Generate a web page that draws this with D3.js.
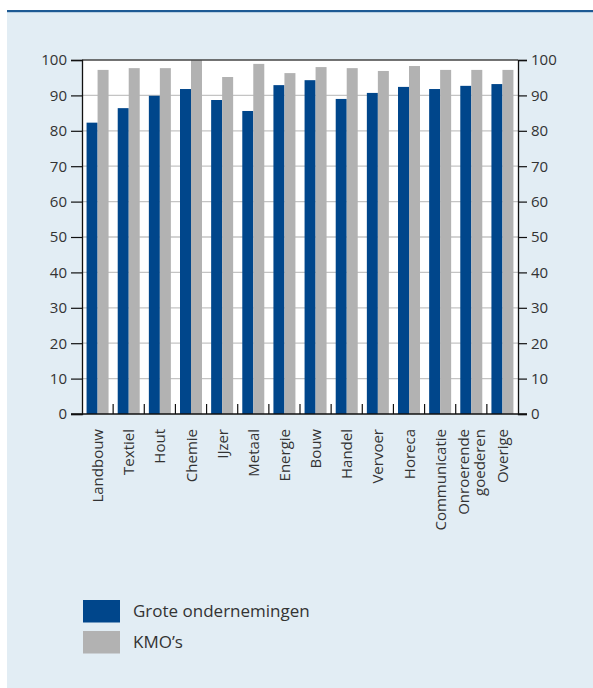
<!DOCTYPE html>
<html><head><meta charset="utf-8">
<script src="https://cdn.jsdelivr.net/npm/d3@7"></script>
<style>body{margin:0;background:#fff}svg{display:block}text{font-family:"Open Sans","Noto Sans",sans-serif;fill:#333}</style>
</head><body><svg id="c" width="593" height="688"></svg>
<script>
const categories = ["Landbouw","Textiel","Hout","Chemie","IJzer","Metaal","Energie","Bouw","Handel","Vervoer","Horeca","Communicatie","Onroerende\ngoederen","Overige"];
const grote = [82.3,86.4,89.9,91.8,88.7,85.6,92.9,94.3,89.0,90.7,92.4,91.8,92.7,93.2];
const kmo = [97.2,97.7,97.7,100,95.2,98.9,96.3,98.0,97.7,96.9,98.3,97.2,97.2,97.2];
const yTicks = [0,10,20,30,40,50,60,70,80,90,100];
const seriesNames = ["Grote ondernemingen","KMO\u2019s"];
const colors = ["#00468b","#b2b2b2"];

const svg = d3.select("#c");
svg.append("rect").attr("x",7).attr("y",12).attr("width",586).attr("height",676).attr("fill","#e2edf4");
svg.append("rect").attr("x",7).attr("y",10).attr("width",586).attr("height",2.2).attr("fill","#1d5a94");

const L=82, R=518, T=60, B=414;
const x = d3.scaleBand().domain(categories).range([L,R]).paddingInner(0).paddingOuter(0);
const y = d3.scaleLinear().domain([0,100]).range([B,T]);
const xs = d3.scaleBand().domain([0,1]).range([0,22]);

svg.append("rect").attr("x",L).attr("y",T).attr("width",R-L).attr("height",B-T).attr("fill","#fff");
svg.append("g").selectAll("line").data(yTicks.filter(t=>t>0&&t<100)).join("line")
  .attr("x1",L).attr("x2",R).attr("y1",d=>y(d)).attr("y2",d=>y(d)).attr("stroke","#c4c4c4").attr("stroke-width",1.3);

const g = svg.append("g");
categories.forEach((c,i)=>{
  const x0 = x(c) + (x.bandwidth()-22)/2;
  [grote[i],kmo[i]].forEach((v,j)=>{
    g.append("rect").attr("x",x0+xs(j)).attr("width",xs.bandwidth()).attr("y",y(v)).attr("height",B-y(v)).attr("fill",colors[j]);
  });
});

svg.append("line").attr("x1",L).attr("x2",R).attr("y1",T).attr("y2",T).attr("stroke","#444").attr("stroke-width",1.3);

// category boundary ticks
svg.append("g").selectAll("line").data(categories.slice(1)).join("line")
  .attr("x1",d=>x(d)).attr("x2",d=>x(d)).attr("y1",B).attr("y2",B-10).attr("stroke","#111").attr("stroke-width",1.2);

const la = svg.append("g").attr("transform",`translate(${L},0)`).call(d3.axisLeft(y).tickValues(yTicks).tickSize(11).tickPadding(4));
const ra = svg.append("g").attr("transform",`translate(${R},0)`).call(d3.axisRight(y).tickValues(yTicks).tickSize(9).tickPadding(4));
[la,ra].forEach(a=>{
  a.select(".domain").attr("stroke","#111").attr("stroke-width",1.3);
  a.selectAll(".tick line").attr("stroke","#111").attr("stroke-width",1.2);
  a.selectAll(".tick text").style("font-size","15px").attr("fill","#333");
});
svg.append("line").attr("x1",71).attr("x2",527).attr("y1",B).attr("y2",B).attr("stroke","#111").attr("stroke-width",1.3);

// category labels
const lab = svg.append("g");
categories.forEach(c=>{
  const lines = c.split("\n");
  const cx = x(c)+x.bandwidth()/2;
  const t = lab.append("text").attr("transform",`translate(${cx},${B+15}) rotate(-90)`)
    .attr("text-anchor","end").style("font-size","15px");
  lines.forEach((ln,k)=>{
    t.append("tspan").attr("x",0).attr("y", (k - (lines.length-1)/2)*15.5 + 5.5).text(ln);
  });
});

// legend
const leg = svg.append("g");
seriesNames.forEach((n,i)=>{
  leg.append("rect").attr("x",83).attr("y",600+i*31).attr("width",37).attr("height",22.5).attr("fill",colors[i]);
  leg.append("text").attr("x",133).attr("y",617+i*31).style("font-size","17px").text(n);
});
</script></body></html>
